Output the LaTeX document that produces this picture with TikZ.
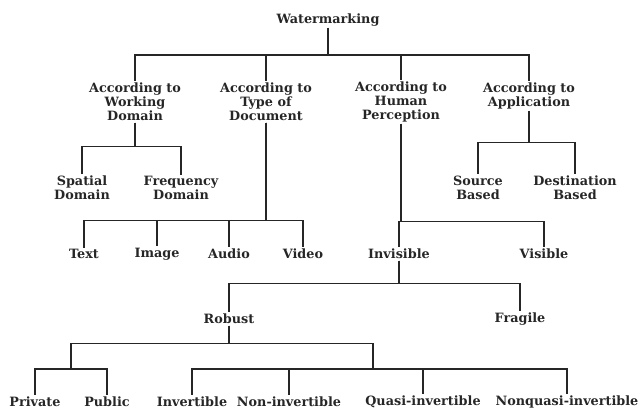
\documentclass[tikz,border=0pt]{standalone}
\usepackage{fontspec}
\setmainfont{DejaVu Serif}
\usepackage{tikz}
\usetikzlibrary{positioning}

\begin{document}
\begin{tikzpicture}[
  x=1pt, y=-1pt,
  item/.style={inner sep=1.5pt, align=center, font=\fontsize{12.8}{14}\selectfont\bfseries, text=black!85},
  link/.style={draw=black!85, line width=1.1pt},
]
  \useasboundingbox (0,0) rectangle (641,409);
  % top level
  \node[item] (wm) at (328,20) {Watermarking};
  \node[item] (dom) at (135,102) {According to\\Working\\Domain};
  \node[item] (doc) at (266,102) {According to\\Type of\\Document};
  \node[item] (hum) at (401,102) {According to\\Human\\Perception};
  \node[item] (app) at (529,96) {According to\\Application};
  % second level
  \node[item] (spa) at (82,188) {Spatial\\Domain};
  \node[item] (fre) at (181,188) {Frequency\\Domain};
  \node[item] (src) at (478,188) {Source\\Based};
  \node[item] (dst) at (575,188) {Destination\\Based};
  \node[item] (txt) at (84,254) {Text};
  \node[item] (img) at (157,254) {Image};
  \node[item] (aud) at (229,254) {Audio};
  \node[item] (vid) at (303,254) {Video};
  \node[item] (inv) at (399,254) {Invisible};
  \node[item] (vis) at (544,254) {Visible};
  \node[item] (rob) at (229,319) {Robust};
  \node[item] (fra) at (520,319) {Fragile};
  % leaves
  \node[item] (pri) at (35,402) {Private};
  \node[item] (pub) at (107,402) {Public};
  \node[item] (ivt) at (192,402) {Invertible};
  \node[item] (non) at (289,402) {Non-invertible};
  \node[item] (qua) at (423,402) {Quasi-invertible};
  \node[item] (nqu) at (567,402) {Nonquasi-invertible};
  \coordinate (pp) at (71,369);
  \coordinate (iv) at (373,369);

  \foreach \c in {dom,doc,hum,app}
    \draw[link] (wm.south) -- ++(0,27) -| (\c.north);
  \foreach \c in {spa,fre}
    \draw[link] (dom.south) -- ++(0,24) -| (\c.north);
  \foreach \c in {src,dst}
    \draw[link] (app.south) -- ++(0,32) -| (\c.north);
  \foreach \c in {txt,img,aud,vid}
    \draw[link] (doc.south) -- ++(0,98) -| (\c.north);
  \foreach \c in {inv,vis}
    \draw[link] (hum.south) -- ++(0,98) -| (\c.north);
  \foreach \c in {rob,fra}
    \draw[link] (inv.south) -- ++(0,23) -| (\c.north);
  \foreach \c in {pp,iv}
    \draw[link] (rob.south) -- ++(0,18) -| (\c);
  \foreach \c in {pri,pub}
    \draw[link] (pp) -| (\c.north);
  \foreach \c in {ivt,non,qua,nqu}
    \draw[link] (iv) -| (\c.north);
\end{tikzpicture}
\end{document}
